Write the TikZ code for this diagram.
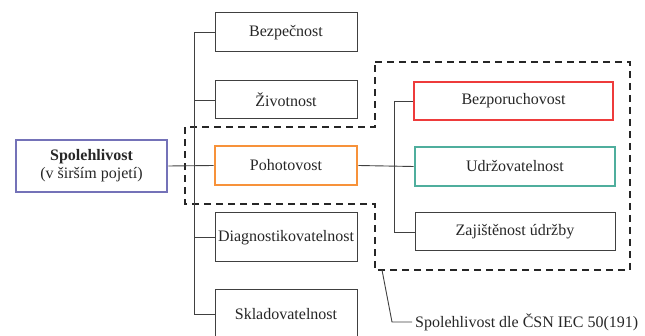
\documentclass[tikz,border=0pt]{standalone}
\usepackage{fontspec}
\setmainfont{Liberation Serif}
\begin{document}
\begin{tikzpicture}[x=1pt,y=-1pt,
  box/.style={draw=black!75,line width=1pt,rectangle,inner sep=0pt,font=\fontsize{16}{18}\selectfont,text=black!85},
  lbox/.style={box,minimum width=142pt,minimum height=39pt},
  rbox/.style={box,minimum width=200pt,minimum height=38pt},
  cbox/.style={line width=2.7pt},
  conn/.style={draw=black!75,line width=0.9pt},
  dashbox/.style={draw=black!85,line width=2pt,dash pattern=on 7pt off 5pt}]
\definecolor{cblue}{HTML}{7472B8}
\definecolor{corange}{HTML}{F7923A}
\definecolor{cred}{HTML}{EE3B3B}
\definecolor{cteal}{HTML}{4FAE9D}
\useasboundingbox (0,0) rectangle (645,336);
\clip (0,0) rectangle (645,336);

% dashed region
\draw[dashbox] (375,62) -- (630,62) -- (630,270) -- (375,270) -- (375,204) -- (185,204) -- (185,127) -- (375,127) -- cycle;

% left column
\node[lbox] (bez) at (286,32.5) {Bezpečnost};
\node[lbox,minimum height=38pt] (ziv) at (286,100) {Životnost};
\node[lbox,cbox,draw=corange] (poh) at (286,165.5) {Pohotovost};
\node[lbox,minimum height=49pt] (dia) at (286,237.5) {Diagnostikovatelnost};
\node[lbox,minimum height=48pt] (skl) at (286,314) {Skladovatelnost};

% root
\node[box,cbox,draw=cblue,minimum width=151pt,minimum height=52pt,align=center] (sp) at (91.5,166)
  {\textbf{Spolehlivost}\\(v širším pojetí)};

% right column
\node[rbox,cbox,draw=cred,minimum width=199pt] (bpr) at (513.5,101) {Bezporuchovost};
\node[rbox,cbox,draw=cteal,minimum height=39pt] (udr) at (515,166.5) {Udržovatelnost};
\node[rbox] (zaj) at (515,232) {Zajištěnost údržby};

% connectors left
\coordinate (t1) at (194,32.5);
\coordinate (t2) at (194,314);
\draw[conn] (t1) -- (t2);
\draw[conn] (t1) -- (bez.west);
\draw[conn] (194,100) -- (ziv.west);
\draw[conn] (194,237.5) -- (dia.west);
\draw[conn] (t2) -- (skl.west |- t2);
\draw[conn] (sp.east) -- (poh.west);

% connectors right
\coordinate (r1) at (394,101);
\coordinate (r2) at (394,232);
\draw[conn] (r1) -- (r2);
\draw[conn] (r1) -- (bpr.west);
\draw[conn] (r2) -- (zaj.west);
\draw[conn] (poh.east) -- (udr.west);

% callout
\node[anchor=west,inner sep=3pt,font=\fontsize{16}{18}\selectfont,text=black!85] (note) at (412,322) {Spolehlivost dle ČSN IEC 50(191)};
\coordinate (c0) at (382,270);
\coordinate (c1) at (392,322);
\draw[conn] (c0) -- (c1) -- (note.west);
\end{tikzpicture}
\end{document}
